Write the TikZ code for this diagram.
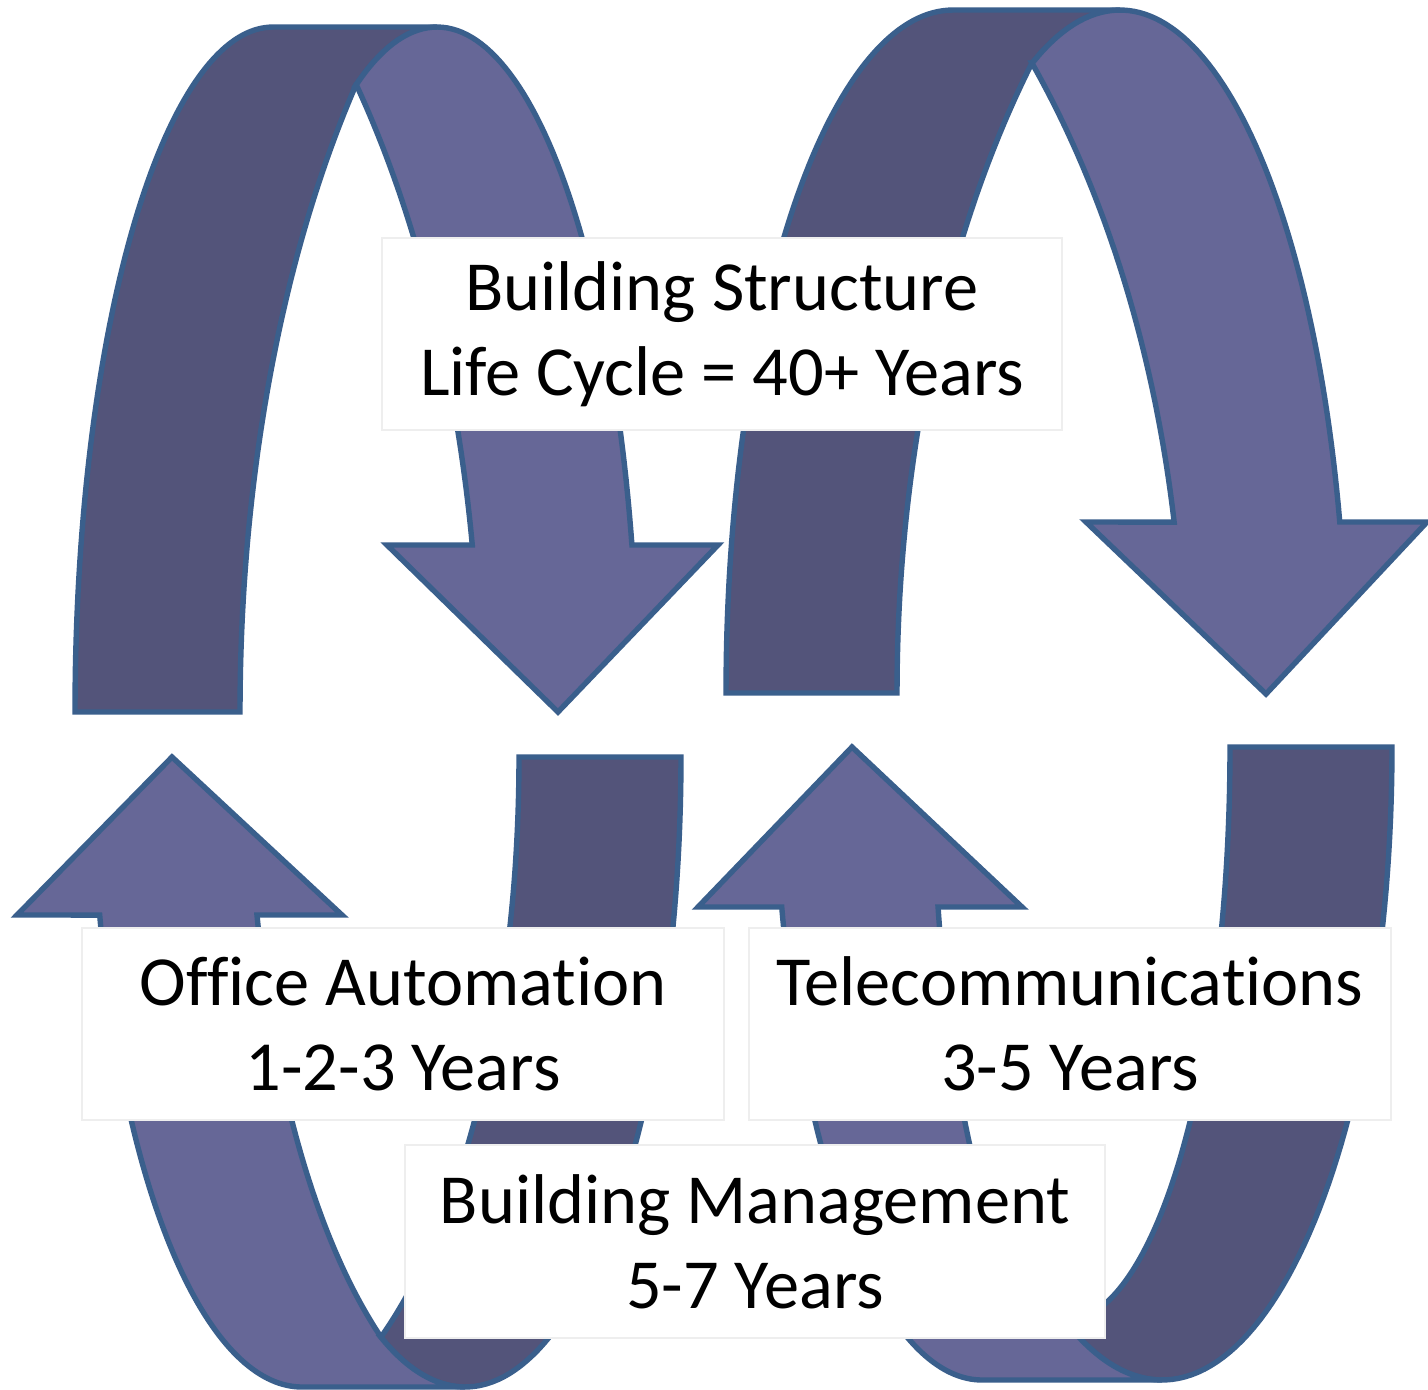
\documentclass[tikz,border=0pt]{standalone}
\usepackage{fontspec}
\setmainfont{Carlito}[Ligatures=NoCommon]
\definecolor{bandDark}{RGB}{83,84,122}
\definecolor{bandLight}{RGB}{102,103,151}
\definecolor{bandEdge}{RGB}{58,95,140}
\definecolor{boxEdge}{RGB}{238,238,238}
\tikzset{
  band/.style={draw=bandEdge, line width=2.7pt, line join=miter, miter limit=10},
  darkband/.style={band, fill=bandDark},
  lightband/.style={band, fill=bandLight},
  arcplot/.style={variable=\t, samples=72},
  labelbox/.style={draw=boxEdge, line width=0.6pt, fill=white, inner sep=0pt,
    align=center, font=\fontsize{35.2}{42.5}\selectfont}
}
\begin{document}
\begin{tikzpicture}[x=0.5pt, y=-0.5pt]
\fill[white] (0,0) rectangle (1428,1389);
\useasboundingbox (0,0) rectangle (1428,1389);

% Arrow A (top left)
\path[darkband] plot[arcplot, domain=180:270] ({273+198*cos(\t)},{712+685*sin(\t)})
  -- plot[arcplot, domain=270:246.25] ({437+201*cos(\t)},{712+685*sin(\t)})
  -- plot[arcplot, domain=222:180] ({691+451*cos(\t)},{712+937*sin(\t)}) -- cycle;
\path[lightband] plot[arcplot, domain=246.25:345.89] ({437+201*cos(\t)},{712+685*sin(\t)})
  -- (718,545) -- (558,712) -- (387,545)
  -- plot[arcplot, domain=349.73:318] ({-1+481*cos(\t)},{712+937*sin(\t)}) -- cycle;

% Arrow B (top right)
\path[darkband] plot[arcplot, domain=180:270] ({953+227*cos(\t)},{693+683*sin(\t)})
  -- plot[arcplot, domain=270:247.28] ({1120+227*cos(\t)},{693+683*sin(\t)})
  -- plot[arcplot, domain=222:180] ({1422+525*cos(\t)},{693+941.5*sin(\t)}) -- cycle;
\path[lightband] plot[arcplot, domain=247.28:345.5] ({1120+227*cos(\t)},{693+683*sin(\t)})
  -- (1427,522) -- (1266,694) -- (1086,522)
  -- plot[arcplot, domain=349.54:318] ({592+592*cos(\t)},{693+941.5*sin(\t)}) -- cycle;

% Arrow C (bottom left)
\path[darkband] plot[arcplot, domain=0:113] ({465+216*cos(\t)},{757+630*sin(\t)})
  -- plot[arcplot, domain=59.3:0] ({237.4+281.6*cos(\t)},{757+674.4*sin(\t)}) -- cycle;
\path[lightband] plot[arcplot, domain=165.47:90] ({302+209*cos(\t)},{757+630*sin(\t)})
  -- plot[arcplot, domain=90:113] ({465+216*cos(\t)},{757+630*sin(\t)})
  -- plot[arcplot, domain=120.7:166.45] ({517.9+268.4*cos(\t)},{757+674.4*sin(\t)})
  -- (342,915) -- (172,757) -- (17,915) -- cycle;

% Arrow D (bottom right)
\path[darkband] plot[arcplot, domain=0:115] ({1162+230*cos(\t)},{747+633*sin(\t)})
  -- plot[arcplot, domain=90:0] ({1065+165*cos(\t)},{747+574*sin(\t)}) -- cycle;
\path[lightband] plot[arcplot, domain=165.36:90] ({982+207*cos(\t)},{747+633*sin(\t)})
  -- plot[arcplot, domain=90:115] ({1162+230*cos(\t)},{747+633*sin(\t)})
  -- plot[arcplot, domain=90:163.82] ({1065+132.2*cos(\t)},{747+574*sin(\t)})
  -- (1022,907) -- (852,747) -- (698,907) -- cycle;

% Labels
\node[labelbox, minimum width=340pt, minimum height=96pt] (structure) at (722,334)
  {Building Structure\\Life Cycle = 40+ Years};
\node[labelbox, minimum width=321pt, minimum height=96pt] (office) at (403,1024)
  {Office Automation\\1-2-3 Years};
\node[labelbox, minimum width=321pt, minimum height=96pt] (telecom) at (1070,1024)
  {Telecommunications\\3-5 Years};
\node[labelbox, minimum width=350pt, minimum height=96.5pt] (management) at (755,1241.5)
  {Building Management\\5-7 Years};
\end{tikzpicture}
\end{document}
